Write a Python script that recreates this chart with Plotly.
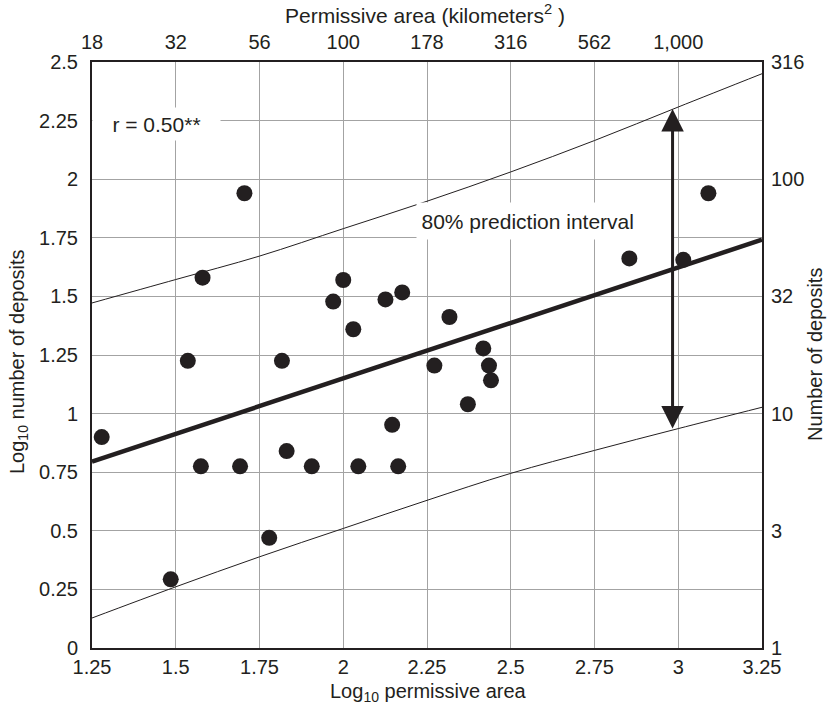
import plotly.graph_objects as go

# ---------------- data ----------------
log_area = [1.279, 1.485, 1.536, 1.575, 1.580, 1.692, 1.705, 1.779, 1.817, 1.831,
            1.906, 1.970, 2.000, 2.030, 2.045, 2.126, 2.146, 2.164, 2.176, 2.272,
            2.317, 2.372, 2.418, 2.435, 2.441, 2.854, 3.015, 3.090]
log_deposits = [0.900, 0.293, 1.225, 0.775, 1.580, 0.775, 1.940, 0.470, 1.225, 0.840,
                0.775, 1.478, 1.570, 1.360, 0.775, 1.487, 0.952, 0.775, 1.517, 1.205,
                1.412, 1.040, 1.278, 1.205, 1.142, 1.662, 1.656, 1.940]

reg_x = [1.25, 3.25]
reg_y = [0.795, 1.742]

pi_x = [1.25, 1.5, 1.75, 2.0, 2.25, 2.5, 2.75, 3.0, 3.25]
pi_upper = [1.472, 1.572, 1.672, 1.789, 1.906, 2.031, 2.165, 2.308, 2.450]
pi_lower = [0.128, 0.261, 0.389, 0.510, 0.630, 0.745, 0.843, 0.936, 1.027]

arrow_x = 2.983
arrow_top = 2.30
arrow_bottom = 0.93

x_tickvals = [1.25, 1.5, 1.75, 2.0, 2.25, 2.5, 2.75, 3.0, 3.25]
x_ticktext = ["1.25", "1.5", "1.75", "2", "2.25", "2.5", "2.75", "3", "3.25"]
top_tickvals = [1.25, 1.5, 1.75, 2.0, 2.25, 2.5, 2.75, 3.0]
top_ticktext = ["18", "32", "56", "100", "178", "316", "562", "1,000"]
y_tickvals = [0, 0.25, 0.5, 0.75, 1, 1.25, 1.5, 1.75, 2, 2.25, 2.5]
y_ticktext = ["0", "0.25", "0.5", "0.75", "1", "1.25", "1.5", "1.75", "2", "2.25", "2.5"]
right_tickvals = [0, 0.5, 1, 1.5, 2, 2.5]
right_ticktext = ["1", "3", "10", "32", "100", "316"]

# ---------------- styling ----------------
INK = "#231f20"
GRID = "#a3a3a3"
FONT = "Liberation Sans, Arial, Helvetica, sans-serif"
FS = 20
W, H = 828, 709
ML, MR, MT, MB = 92, 66, 62, 61
PW, PH = W - ML - MR, H - MT - MB


def px_to_paper(px, py):
    return (px - ML) / PW, (H - MB - py) / PH


fig = go.Figure()

fig.add_trace(go.Scatter(x=pi_x, y=pi_upper, mode="lines", line=dict(color=INK, width=1, shape="spline"),
                         showlegend=False, hoverinfo="skip"))
fig.add_trace(go.Scatter(x=pi_x, y=pi_lower, mode="lines", line=dict(color=INK, width=1, shape="spline"),
                         showlegend=False, hoverinfo="skip"))
fig.add_trace(go.Scatter(x=reg_x, y=reg_y, mode="lines", line=dict(color=INK, width=4.5),
                         showlegend=False, hoverinfo="skip"))
fig.add_trace(go.Scatter(x=log_area, y=log_deposits, mode="markers",
                         marker=dict(color=INK, size=16, line=dict(width=0)), showlegend=False))
# invisible trace to carry the secondary axes
fig.add_trace(go.Scatter(x=[None], y=[None], xaxis="x2", yaxis="y2", showlegend=False, hoverinfo="skip"))

tfont = dict(family=FONT, size=FS, color=INK)
lfont = dict(family=FONT, size=21, color=INK)

# text labels on white boxes
fig.add_annotation(x=1.4425, y=2.25, xref="x", yref="y", text="r = 0.50**", showarrow=False,
                   font=lfont, bgcolor="white",
                   width=127, height=32, borderpad=0, align="center", yshift=-3)
fig.add_annotation(x=2.603, y=1.822, xref="x", yref="y", text="80% prediction interval", showarrow=False,
                   font=lfont, bgcolor="white",
                   width=247, height=27, borderpad=4.5, align="left")

# double-headed arrow (drawn after the label box so it stays on top)
fig.add_annotation(x=arrow_x, y=arrow_top, ax=arrow_x, ay=arrow_bottom, xref="x", yref="y",
                   axref="x", ayref="y", text="", showarrow=True, arrowside="end+start",
                   arrowhead=2, arrowsize=1.5, arrowwidth=3, arrowcolor=INK)

# axis titles as paper annotations
bx, by = px_to_paper(428, 692)
fig.add_annotation(x=bx, y=by, xref="paper", yref="paper", text="Log<sub>10</sub> permissive area",
                   showarrow=False, font=tfont, xanchor="center", yanchor="middle")
tx, ty = px_to_paper(425, 14)
fig.add_annotation(x=tx, y=ty, xref="paper", yref="paper", text="Permissive area (kilometers<sup>2</sup> )",
                   showarrow=False, font=lfont, xanchor="center", yanchor="middle")
lx, ly = px_to_paper(18, 362)
fig.add_annotation(x=lx, y=ly, xref="paper", yref="paper", text="Log<sub>10</sub> number of deposits",
                   showarrow=False, font=tfont, textangle=-90, xanchor="center", yanchor="middle")
rx, ry = px_to_paper(815, 355)
fig.add_annotation(x=rx, y=ry, xref="paper", yref="paper", text="Number of deposits",
                   showarrow=False, font=tfont, textangle=-90, xanchor="center", yanchor="middle")

axis_common = dict(tickfont=tfont, zeroline=False, ticks="", automargin=False)

fig.update_layout(
    width=W, height=H,
    margin=dict(l=ML, r=MR, t=MT, b=MB, autoexpand=False),
    paper_bgcolor="white", plot_bgcolor="white",
    font=tfont,
    xaxis=dict(range=[1.25, 3.25], tickvals=x_tickvals, ticktext=x_ticktext,
               showgrid=True, gridcolor=GRID, gridwidth=1,
               showline=True, linecolor=INK, linewidth=2, mirror=True,
               **axis_common),
    yaxis=dict(range=[0, 2.5], tickvals=y_tickvals, ticktext=y_ticktext,
               showgrid=True, gridcolor=GRID, gridwidth=1,
               showline=True, linecolor=INK, linewidth=2, mirror=True,
               ticklabelstandoff=8,
               **axis_common),
    xaxis2=dict(overlaying="x", side="top", range=[1.25, 3.25], tickvals=top_tickvals, ticktext=top_ticktext,
                showgrid=False, showline=False, ticklabelstandoff=8,
                **axis_common),
    yaxis2=dict(overlaying="y", side="right", range=[0, 2.5], tickvals=right_tickvals, ticktext=right_ticktext,
                showgrid=False, showline=False, ticklabelstandoff=8,
                **axis_common),
)

fig.write_html("out.html", config={"displayModeBar": False},
               post_script="document.body.style.margin='0';document.body.style.overflow='hidden';")
